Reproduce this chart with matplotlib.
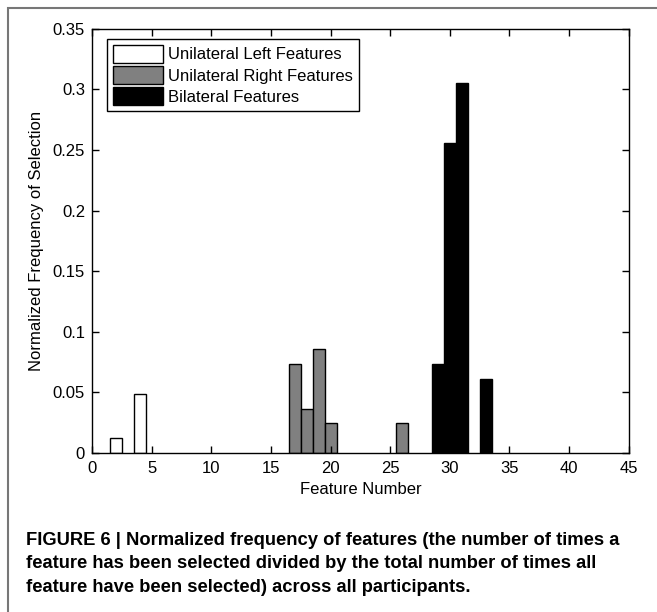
# Normalized frequency of feature selection, split by feature group

import matplotlib
matplotlib.use("Agg")
import matplotlib.pyplot as plt
from matplotlib.patches import Rectangle

left_features = [2, 4]
left_freq = [0.0122, 0.0488]

right_features = [17, 18, 19, 20, 26]
right_freq = [0.0732, 0.0366, 0.0854, 0.0244, 0.0244]

bilateral_features = [29, 30, 31, 33]
bilateral_freq = [0.0732, 0.2561, 0.3049, 0.0610]

x_ticks = list(range(0, 46, 5))
y_ticks = [0, 0.05, 0.1, 0.15, 0.2, 0.25, 0.3, 0.35]
y_tick_labels = ["0", "0.05", "0.1", "0.15", "0.2", "0.25", "0.3", "0.35"]

plt.rcParams['font.family'] = ['Liberation Sans', 'DejaVu Sans']

fig = plt.figure(figsize=(6.57, 6.12), dpi=100)
ax = fig.add_axes([0.140, 0.260, 0.817, 0.693])

bar_kw = dict(width=1.0, edgecolor='black', linewidth=1.0)
ax.bar(left_features, left_freq, color='white', label='Unilateral Left Features', **bar_kw)
ax.bar(right_features, right_freq, color='#808080', label='Unilateral Right Features', **bar_kw)
ax.bar(bilateral_features, bilateral_freq, color='black', label='Bilateral Features', **bar_kw)

ax.set_xlim(0, 45)
ax.set_ylim(0, 0.35)
ax.set_xticks(x_ticks)
ax.set_yticks(y_ticks)
ax.set_yticklabels(y_tick_labels)
ax.tick_params(direction='in', length=5, width=1, top=True, right=True,
               labelsize=12)
ax.tick_params(axis='x', pad=6)
ax.tick_params(axis='y', pad=5)
for s in ax.spines.values():
    s.set_linewidth(1.0)

ax.set_xlabel("Feature Number", fontsize=12, labelpad=4)
ax.set_ylabel("Normalized Frequency of Selection", fontsize=12, labelpad=6)

leg = ax.legend(loc='upper left', bbox_to_anchor=(0.028, 0.976), borderaxespad=0,
                fontsize=12, handlelength=3.0, handleheight=1.28, labelspacing=0.2,
                handletextpad=0.3, borderpad=0.35, fancybox=False, framealpha=1)
leg.get_frame().set_edgecolor('black')
leg.get_frame().set_linewidth(1.0)

# outer frame of the figure panel
fig.add_artist(Rectangle((8 / 657, -0.05), 1.1, 1 - 8 / 612 + 0.05,
                         transform=fig.transFigure, fill=False,
                         edgecolor='#777777', linewidth=1.5))

caption = ("FIGURE 6 | Normalized frequency of features (the number of times a\n"
           "feature has been selected divided by the total number of times all\n"
           "feature have been selected) across all participants.")
fig.text(26 / 657, 1 - 532 / 612, caption, fontsize=13.2, fontweight='bold',
         va='top', ha='left', linespacing=1.5)

fig.savefig("out.png", dpi=100)
